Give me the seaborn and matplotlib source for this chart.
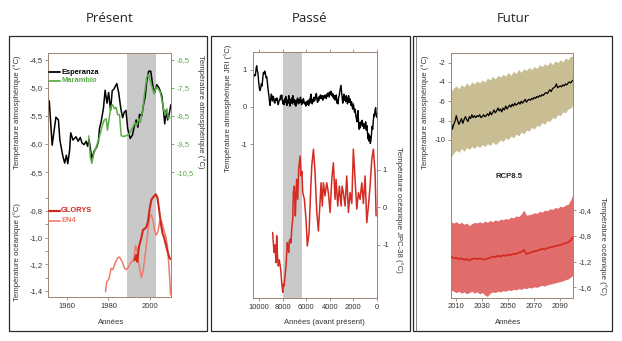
import numpy as np
import pandas as pd
import matplotlib
matplotlib.use("Agg")
import matplotlib.pyplot as plt
import seaborn as sns
from matplotlib.patches import Rectangle
from matplotlib.lines import Line2D

# ---------------- DATA ----------------
# Panel 1 : Présent
esp_years = [1951.6, 1953, 1954.8, 1956, 1956.7, 1958.2, 1959, 1959.8, 1960.5, 1961.4, 1961.9, 1963, 1964.4,
             1965.5, 1966.5, 1967.3, 1968.3, 1969.3, 1970, 1970.7, 1971.2, 1972, 1973, 1974.4, 1975.2, 1975.7,
             1976.5, 1977.6, 1978.4, 1979.3, 1980.1, 1981, 1981.8, 1982.6, 1984, 1984.9, 1985.9, 1986.8, 1987.6,
             1988.4, 1989.2, 1990.4, 1991.5, 1992.5, 1993.3, 1994.1, 1994.9, 1996, 1996.8, 1997.6, 1998.4,
             1999.3, 2000.3, 2001.3, 2002.1, 2003.2, 2004.3, 2005.6, 2006.4, 2007, 2007.6, 2008.4, 2009.2, 2009.9]
esp_temp = [-5.23, -6.02, -5.52, -5.57, -5.93, -6.23, -6.34, -6.2, -6.35, -6.1, -5.80, -5.93, -5.87,
            -5.95, -5.88, -5.98, -6.01, -5.95, -6.04, -5.92, -6.05, -6.26, -6.14, -6.05, -5.95, -5.72,
            -5.6, -5.36, -5.04, -5.27, -5.08, -5.4, -5.05, -5.02, -4.92, -5.08, -5.36, -5.53, -5.43,
            -5.4, -5.72, -5.9, -5.84, -5.67, -5.57, -5.7, -5.47, -5.5, -5.3, -5.16, -4.87,
            -4.7, -4.7, -4.97, -5.08, -4.94, -5.0, -5.14, -5.4, -5.64, -5.4, -5.57, -5.45, -5.3]

mar_years = [1970.5, 1971.3, 1972, 1973, 1974.4, 1975.6, 1976.8, 1977.9, 1978.9, 1979.5, 1980.5, 1981.3,
             1982, 1982.9, 1983.7, 1984.4, 1985.3, 1986.1, 1987.3, 1988.5, 1989.6, 1990.8, 1991.7, 1992.9,
             1993.7, 1994.5, 1995.3, 1996.4, 1997.3, 1998.4, 1999.2, 2000, 2000.9, 2001.9, 2002.9, 2003.8,
             2004.8, 2005.7, 2006.4, 2007.2, 2008, 2008.7, 2009.5]
mar_temp = [-9.21, -9.95, -10.19, -9.83, -9.55, -9.26, -8.9, -8.65, -8.6, -9.0, -8.5, -8.13,
            -8.1, -8.24, -8.19, -8.45, -8.45, -9.2, -9.23, -9.2, -9.17, -9.02, -8.9, -8.73,
            -8.82, -8.6, -8.73, -8.31, -7.71, -7.11, -7.02, -7.23, -7.46, -7.71, -7.46, -7.52,
            -7.64, -7.94, -8.24, -8.48, -8.24, -8.6, -8.54]

en4_years = [1978.6, 1979.2, 1980.2, 1981.3, 1982.1, 1983.2, 1984.5, 1985.3, 1986.6, 1987.7, 1988.5, 1989.6,
             1990.6, 1991.4, 1992.2, 1993, 1993.7, 1994.3, 1995, 1995.8, 1996.6, 1997.4, 1998.3, 1999,
             1999.8, 2000.6, 2001.4, 2002.2, 2003, 2003.8, 2004.6, 2005.3, 2005.9, 2006.7, 2007.5, 2008.3,
             2009.2, 2009.8]
en4_temp = [-1.405, -1.33, -1.31, -1.23, -1.24, -1.19, -1.15, -1.145, -1.18, -1.23, -1.24, -1.22,
            -1.19, -1.18, -1.155, -1.06, -1.09, -1.17, -1.23, -1.30, -1.25, -1.155, -1.04, -0.94,
            -0.84, -0.83, -0.87, -0.95, -0.98, -0.95, -0.875, -0.87, -0.9, -0.95, -0.99, -1.06,
            -1.26, -1.43]

glorys_years = [1992.5, 1993.3, 1993.8, 1994.6, 1995.8, 1996.6, 1997.4, 1998.3, 1999, 1999.8, 2000.6,
                2001.8, 2002.7, 2003.5, 2004.3, 2005.1, 2005.9, 2006.7, 2007.5, 2008.3, 2009.2, 2009.8]
glorys_temp = [-1.17, -1.13, -1.18, -1.07, -1.0, -0.94, -0.935, -0.915, -0.875, -0.78, -0.715,
               -0.69, -0.675, -0.70, -0.79, -0.89, -0.965, -1.0, -1.05, -1.1, -1.15, -1.16]

p1_xticks = [1960, 1980, 2000]
p1_atm_ticks = [-4.5, -5.0, -5.5, -6.0, -6.5]
p1_atm_labels = ["-4,5", "-5,0", "-5,5", "-6,0", "-6,5"]
p1_mar_ticks = [-6.5, -7.5, -8.5, -9.5, -10.5]
p1_mar_labels = ["-6,5", "-7,5", "-8,5", "-9,5", "-10,5"]
p1_oce_ticks = [-0.8, -1.0, -1.2, -1.4]
p1_oce_labels = ["-0,8", "-1,0", "-1,2", "-1,4"]

# Panel 2 : Passé
jri_age = [10560, 10480, 10400, 10330, 10260, 10220, 10180, 10120, 10060, 10000, 9940, 9880, 9820, 9760,
           9700, 9650, 9600, 9540, 9480, 9420, 9360, 9300, 9240, 9180, 9120, 9080, 9030, 8980, 8930, 8880,
           8830, 8780, 8720, 8670, 8610, 8560, 8500, 8450, 8390, 8340, 8290, 8240, 8190, 8140, 8090, 8040,
           7990, 7940, 7890, 7840, 7790, 7740, 7690, 7640, 7590, 7540, 7490, 7440, 7390, 7340, 7290, 7240,
           7190, 7140, 7090, 7040, 6990, 6940, 6890, 6840, 6790, 6740, 6690, 6640, 6590, 6540, 6490, 6440,
           6390, 6340, 6290, 6240, 6190, 6140, 6090, 6040, 5990, 5940, 5890, 5840, 5790, 5740, 5690, 5640,
           5590, 5540, 5490, 5440, 5390, 5340, 5290, 5240, 5190, 5140, 5090, 5040, 4990, 4940, 4890, 4840,
           4790, 4740, 4690, 4640, 4590, 4540, 4490, 4440, 4390, 4340, 4290, 4240, 4190, 4140, 4090, 4040,
           3990, 3940, 3890, 3840, 3790, 3740, 3690, 3640, 3590, 3540, 3490, 3440, 3390, 3340, 3290, 3240,
           3190, 3140, 3090, 3040, 2990, 2940, 2890, 2840, 2790, 2740, 2690, 2640, 2590, 2540, 2490, 2440,
           2390, 2340, 2290, 2240, 2190, 2140, 2090, 2040, 1990, 1940, 1890, 1840, 1790, 1740, 1690, 1640,
           1590, 1540, 1490, 1440, 1390, 1340, 1290, 1240, 1190, 1140, 1090, 1040, 990, 940, 890, 840,
           790, 740, 690, 640, 590, 540, 490, 440, 390, 340, 290, 240, 190, 140, 90, 50, 0]
jri_temp = [0.78, 0.80, 0.86, 0.84, 1.05, 1.10, 0.98, 0.92, 0.70, 0.52, 0.44, 0.50, 0.62, 0.56,
            0.78, 0.92, 0.88, 0.96, 0.90, 0.78, 0.80, 0.62, 0.44, 0.30, 0.12, 0.04, 0.20, 0.34, 0.30, 0.16,
            0.28, 0.26, 0.12, 0.10, 0.22, 0.18, 0.24, 0.14, 0.06, 0.12, 0.20, 0.18, 0.30, 0.22, 0.32, 0.18,
            0.08, 0.16, 0.06, 0.22, 0.12, 0.28, 0.10, 0.04, 0.18, 0.10, 0.30, 0.12, 0.02, 0.20, 0.14, 0.24,
            0.08, 0.30, 0.12, 0.20, 0.06, 0.16, 0.02, 0.18, 0.10, 0.24, 0.14, 0.08, 0.20, 0.12, 0.26, 0.16,
            0.06, 0.18, 0.10, 0.22, 0.14, 0.08, 0.12, 0.02, 0.14, 0.06, 0.16, 0.12, 0.04, 0.20, 0.10, 0.28,
            0.34, 0.18, 0.08, 0.20, 0.14, 0.26, 0.16, 0.22, 0.30, 0.36, 0.20, 0.12, 0.24, 0.16, 0.28, 0.22,
            0.32, 0.26, 0.22, 0.30, 0.18, 0.26, 0.30, 0.24, 0.32, 0.28, 0.22, 0.34, 0.28, 0.38, 0.32, 0.26,
            0.40, 0.34, 0.42, 0.30, 0.36, 0.26, 0.34, 0.22, 0.30, 0.18, 0.24, 0.32, 0.10, 0.20, 0.08, 0.26,
            0.30, 0.42, 0.50, 0.58, 0.40, 0.24, 0.10, 0.26, 0.34, 0.18, 0.28, 0.14, 0.30, 0.24, 0.08, 0.20,
            0.30, 0.12, 0.22, 0.16, 0.04, 0.14, 0.00, -0.06, 0.08, -0.02, -0.14, -0.06, -0.22, -0.30, -0.40, -0.20,
            -0.10, -0.45, -0.60, -0.42, -0.56, -0.40, -0.48, -0.36, -0.52, -0.44, -0.58, -0.46, -0.54, -0.40, -0.62, -0.50,
            -0.68, -0.86, -0.72, -0.92, -0.78, -0.98, -0.90, -0.70, -0.52, -0.60, -0.38, -0.20, -0.26, -0.08, -0.02, -0.18, -0.28]

jpc_age = [8860, 8800, 8745, 8660, 8575, 8517, 8450, 8380, 8300, 8235, 8160, 8090, 8005, 7950, 7894, 7800,
           7724, 7660, 7610, 7550, 7493, 7440, 7383, 7300, 7238, 7150, 7100, 7014, 6930, 6870, 6816, 6730,
           6645, 6530, 6440, 6370, 6300, 6160, 6020, 5906, 5760, 5675, 5600, 5530, 5386, 5250, 5100, 4966,
           4826, 4740, 4630, 4540, 4400, 4254, 4117, 3970, 3825, 3690, 3545, 3460, 3316, 3180, 3034, 2949,
           2838, 2694, 2550, 2410, 2268, 2122, 1987, 1842, 1697, 1560, 1415, 1270, 1134, 990, 845, 708,
           563, 418, 282, 137, 51]
jpc_temp = [-0.67, -0.95, -1.2, -1.0, -1.47, -0.76, -1.3, -1.56, -1.4, -1.52, -1.7, -2.0, -2.26, -2.05, -2.1, -1.8,
            -1.56, -1.2, -0.94, -1.1, -1.2, -0.9, -0.85, -0.95, -0.58, -0.32, 0.39, 0.56, -0.23, 0.3, 0.74, 0.21,
            1.0, 1.36, 0.83, 0.95, 0.39, 0.21, -0.32, -1.03, -0.67, 0.03, 0.6, 1.1, 1.54, 0.92, -0.14, -0.63,
            0.12, 0.65, 0.03, 0.65, 0.3, 0.65, 0.39, -0.14, 0.74, 1.18, 0.21, 0.74, 0.03, 0.56, 0.03, 0.56,
            0.39, 0.03, 0.83, -0.14, 0.39, 0.1, 1.54, 0.74, -0.05, 0.39, 0.21, 0.65, 0.1, 0.83, -0.41, 0.03,
            0.56, 1.27, 1.54, 0.92, -0.23]

p2_xticks = [10000, 8000, 6000, 4000, 2000, 0]
p2_xlabels = ["10000", "8000", "6000", "4000", "2000", "0"]
p2_atm_ticks = [1, 0, -1]
p2_oce_ticks = [1, 0, -1]

# Panel 3 : Futur
fut_years = list(range(2006, 2101))
fut_atm_mean = [-8.2, -8.9, -8.4, -8.1, -7.5, -8.0, -8.4, -8.1, -7.8, -8.3,
                -7.9, -7.6, -7.9, -8.1, -7.6, -7.8, -7.4, -7.7, -7.5, -7.7,
                -7.5, -7.6, -7.4, -7.7, -7.6, -7.4, -7.6, -7.5, -7.3, -7.5,
                -7.1, -7.4, -7.2, -6.9, -7.2, -7.0, -6.7, -7.0, -6.8, -7.1,
                -6.7, -6.9, -6.5, -6.8, -6.6, -6.4, -6.6, -6.3, -6.5, -6.2,
                -6.4, -6.3, -6.1, -6.3, -6.0, -6.2, -6.0, -5.8, -6.1, -5.9,
                -5.8, -5.9, -5.7, -5.8, -5.6, -5.7, -5.5, -5.6, -5.4, -5.5,
                -5.3, -5.4, -5.2, -5.1, -5.2, -5.0, -4.8, -5.0, -4.7, -4.6,
                -4.5, -4.2, -4.6, -4.5, -4.4, -4.5, -4.3, -4.4, -4.2, -4.3,
                -4.1, -4.0, -4.1, -3.9, -3.8]
band_years = list(range(2006, 2101, 2))
fut_atm_upper = [-5.0, -4.6, -4.4, -4.7, -4.3, -4.5, -4.1, -4.4, -4.0, -4.2,
                 -3.9, -4.1, -3.8, -4.0, -3.6, -3.8, -3.4, -3.7, -3.3, -3.5,
                 -3.2, -3.4, -3.0, -3.3, -2.9, -3.1, -2.7, -3.0, -2.6, -2.8,
                 -2.5, -2.7, -2.4, -2.6, -2.2, -2.4, -2.1, -2.3, -1.9, -2.2,
                 -1.8, -2.0, -1.7, -1.9, -1.5, -1.7, -1.3, -1.4]
fut_atm_lower = [-11.8, -11.4, -11.1, -11.3, -10.9, -11.2, -10.8, -11.0, -10.7, -10.9,
                 -10.6, -10.8, -10.5, -10.7, -10.4, -10.6, -10.2, -10.5, -10.3, -10.0,
                 -10.2, -9.8, -10.0, -9.6, -9.8, -9.4, -9.6, -9.2, -9.4, -9.0,
                 -9.1, -8.7, -8.9, -8.5, -8.6, -8.2, -8.4, -8.0, -8.1, -7.7,
                 -7.8, -7.4, -7.5, -7.1, -7.2, -6.8, -6.7, -6.3]
fut_oce_mean = [-1.12, -1.15, -1.14, -1.16, -1.15, -1.17, -1.16, -1.18, -1.16, -1.15,
                -1.16, -1.15, -1.16, -1.17, -1.15, -1.14, -1.12, -1.13, -1.11, -1.12,
                -1.10, -1.11, -1.09, -1.10, -1.08, -1.08, -1.06, -1.05, -1.02, -1.08,
                -1.07, -1.05, -1.04, -1.03, -1.02, -1.00, -1.01, -0.99, -0.98, -0.97,
                -0.96, -0.95, -0.94, -0.93, -0.91, -0.90, -0.87, -0.81]
fut_oce_upper = [-0.58, -0.60, -0.58, -0.61, -0.59, -0.62, -0.60, -0.64, -0.61, -0.59,
                 -0.60, -0.58, -0.60, -0.57, -0.59, -0.56, -0.58, -0.55, -0.57, -0.54,
                 -0.55, -0.53, -0.54, -0.51, -0.52, -0.49, -0.50, -0.46, -0.40, -0.48,
                 -0.47, -0.46, -0.44, -0.45, -0.42, -0.43, -0.40, -0.41, -0.38, -0.39,
                 -0.36, -0.37, -0.34, -0.35, -0.32, -0.31, -0.24, -0.14]
fut_oce_lower = [-1.64, -1.66, -1.68, -1.66, -1.69, -1.67, -1.70, -1.68, -1.66, -1.69,
                 -1.67, -1.70, -1.68, -1.72, -1.74, -1.69, -1.67, -1.68, -1.66, -1.67,
                 -1.65, -1.66, -1.64, -1.65, -1.63, -1.64, -1.62, -1.63, -1.61, -1.62,
                 -1.60, -1.61, -1.59, -1.60, -1.58, -1.57, -1.58, -1.56, -1.55, -1.54,
                 -1.53, -1.52, -1.51, -1.50, -1.48, -1.47, -1.44, -1.41]

p3_xticks = [2010, 2030, 2050, 2070, 2090]
p3_atm_ticks = [-2, -4, -6, -8, -10]
p3_oce_ticks = [-0.4, -0.8, -1.2, -1.6]
p3_oce_labels = ["-0,4", "-0,8", "-1,2", "-1,6"]

# ---------------- STYLE ----------------
sns.set_theme(style="ticks")
plt.rcParams["font.family"] = ["Liberation Sans", "DejaVu Sans"]

W, H = 622, 341
fig = plt.figure(figsize=(W / 100, H / 100), dpi=100)
fig.patch.set_facecolor("white")

SPINE = "#9c8474"
TXT = "#333333"
GREEN = "#5aac48"
DRED = "#cc2a1c"
LRED = "#ee7c6c"
RED = "#d42b22"
GRAY = "#c9c9c9"


def fx(x):
    return x / W


def fy(y):
    return 1 - y / H


def rect(x0, y0, x1, y1):
    return [fx(x0), fy(y1), (x1 - x0) / W, (y1 - y0) / H]


def style(ax, color=TXT, tcolor=SPINE):
    for s in ax.spines.values():
        s.set_color(SPINE)
        s.set_linewidth(0.7)
    ax.tick_params(axis="both", which="both", direction="out", length=2.5, width=0.6,
                   color=tcolor, labelsize=5.5, labelcolor=color, pad=1.5)
    ax.grid(False)


def hide_spines(ax):
    for s in ax.spines.values():
        s.set_visible(False)


# Panel frames
for (x0, x1) in [(9, 207), (211, 410), (413, 612)]:
    fig.add_artist(Rectangle((fx(x0), fy(331)), (x1 - x0) / W, (331 - 36) / H,
                             transform=fig.transFigure, fill=False, ec="#2a2a2a", lw=0.9))
fig.add_artist(Line2D([fx(415.5), fx(415.5)], [fy(36), fy(331)], transform=fig.transFigure,
                      color="#555555", lw=0.5))

# Titles
for t, x in [("Présent", 110), ("Passé", 310), ("Futur", 513)]:
    fig.text(fx(x), fy(18), t, ha="center", va="center", fontsize=9.5, color="#222222",
             family=["Open Sans", "DejaVu Sans"])

# ---------------- PANEL 1 ----------------
ax1 = fig.add_axes(rect(48, 53, 171, 297))
ax1.axvspan(1989, 2003, color=GRAY, zorder=0, lw=0)
sns.lineplot(x=esp_years, y=esp_temp, ax=ax1, color="black", lw=1.1, errorbar=None)
ax1.set_xlim(1951, 2010)
ax1.set_ylim(-8.73, -4.375)
ax1.set_yticks(p1_atm_ticks)
ax1.set_yticklabels(p1_atm_labels)
ax1.set_xticks(p1_xticks)
ax1.set_xticklabels([str(v) for v in p1_xticks])
style(ax1)

ax1b = ax1.twinx()
sns.lineplot(x=mar_years, y=mar_temp, ax=ax1b, color=GREEN, lw=1.1, errorbar=None)
ax1b.set_ylim(-14.96, -6.25)
ax1b.set_yticks(p1_mar_ticks)
ax1b.set_yticklabels(p1_mar_labels)
style(ax1b, color=GREEN, tcolor=GREEN)
hide_spines(ax1b)
ax1b.set_ylabel("")

ax1c = ax1.twinx()
sns.lineplot(x=en4_years, y=en4_temp, ax=ax1c, color=LRED, lw=1.1, errorbar=None)
sns.lineplot(x=glorys_years, y=glorys_temp, ax=ax1c, color=DRED, lw=1.5, errorbar=None)
ax1c.set_ylim(-1.445, 0.385)
ax1c.yaxis.tick_left()
ax1c.set_yticks(p1_oce_ticks)
ax1c.set_yticklabels(p1_oce_labels)
ax1c.set_yticks([-0.7, -0.9, -1.1, -1.3], minor=True)
style(ax1c)
hide_spines(ax1c)
ax1c.set_ylabel("")
ax1c.set_xlim(1951, 2010)

# Legends panel 1
for y, lab, c, lw in [(72, "Esperanza", "black", 1.3), (81, "Marambio", GREEN, 1.3),
                      (211, "GLORYS", DRED, 1.6), (221, "EN4", LRED, 1.2)]:
    fig.add_artist(Line2D([fx(48.5), fx(60)], [fy(y), fy(y)], transform=fig.transFigure, color=c, lw=lw))
    fig.text(fx(61), fy(y), lab, ha="left", va="center", fontsize=5.4, fontweight="bold", color=c)

# ---------------- PANEL 2 ----------------
ax2 = fig.add_axes(rect(252.7, 52, 376.7, 298))
ax2.axvspan(8000, 6400, color=GRAY, zorder=0, lw=0)
sns.lineplot(x=jri_age, y=jri_temp, ax=ax2, color="black", lw=1.0, errorbar=None)
ax2.set_xlim(10560, 0)
ax2.set_ylim(-5.12, 1.47)
ax2.set_yticks(p2_atm_ticks)
ax2.set_yticklabels([str(v) for v in p2_atm_ticks])
ax2.set_xticks(p2_xticks)
ax2.set_xticklabels(p2_xlabels)
style(ax2)
ax2.tick_params(axis="x", top=True)

ax2b = ax2.twinx()
sns.lineplot(x=jpc_age, y=jpc_temp, ax=ax2b, color=RED, lw=1.1, errorbar=None)
ax2b.set_ylim(-2.41, 4.12)
ax2b.set_yticks(p2_oce_ticks)
ax2b.set_yticklabels([str(v) for v in p2_oce_ticks])
style(ax2b)
hide_spines(ax2b)
ax2b.set_ylabel("")
ax2b.set_xlim(10560, 0)

# ---------------- PANEL 3 ----------------
ax3 = fig.add_axes(rect(450.7, 53, 573.3, 297.7))
ax3.fill_between(band_years, fut_atm_lower, fut_atm_upper, color="#c9bd93", lw=0, zorder=1)
sns.lineplot(x=fut_years, y=fut_atm_mean, ax=ax3, color="black", lw=0.9, errorbar=None)
ax3.set_xlim(2005.7, 2100)
ax3.set_ylim(-26.4, -0.99)
ax3.set_yticks(p3_atm_ticks)
ax3.set_yticklabels([str(v) for v in p3_atm_ticks])
ax3.set_xticks(p3_xticks)
ax3.set_xticklabels([str(v) for v in p3_xticks])
style(ax3)

ax3b = ax3.twinx()
ax3b.fill_between(band_years, fut_oce_lower, fut_oce_upper, color="#e06d6c", lw=0, zorder=1)
sns.lineplot(x=band_years, y=fut_oce_mean, ax=ax3b, color=RED, lw=1.3, errorbar=None)
ax3b.set_ylim(-1.76, 2.04)
ax3b.set_yticks(p3_oce_ticks)
ax3b.set_yticklabels(p3_oce_labels)
style(ax3b)
hide_spines(ax3b)
ax3b.set_ylabel("")
ax3b.set_xlim(2005.7, 2100)

fig.text(fx(509), fy(177), "RCP8.5", ha="center", va="center", fontsize=5.6, fontweight="bold", color="#222222")

# ---------------- AXIS LABELS ----------------
lab_kw = dict(fontsize=5.6, color=TXT, va="center", ha="center")
fig.text(fx(17), fy(112), "Température atmosphérique (°C)", rotation=90, **lab_kw)
fig.text(fx(201), fy(112), "Température atmosphérique (°C)", rotation=270, **lab_kw)
fig.text(fx(17), fy(252), "Température océanique (°C)", rotation=90, **lab_kw)
fig.text(fx(228), fy(108), "Température atmosphérique JRI (°C)", rotation=90, **lab_kw)
fig.text(fx(399), fy(210), "Température océanique JPC-38 (°C)", rotation=270, **lab_kw)
fig.text(fx(425), fy(112), "Température atmosphérique (°C)", rotation=90, **lab_kw)
fig.text(fx(603), fy(246), "Température océanique (°C)", rotation=270, **lab_kw)
fig.text(fx(111), fy(323), "Années", **lab_kw)
fig.text(fx(324), fy(323), "Années (avant présent)", **lab_kw)
fig.text(fx(508), fy(323), "Années", **lab_kw)

fig.savefig("out.png", dpi=100, facecolor="white")
